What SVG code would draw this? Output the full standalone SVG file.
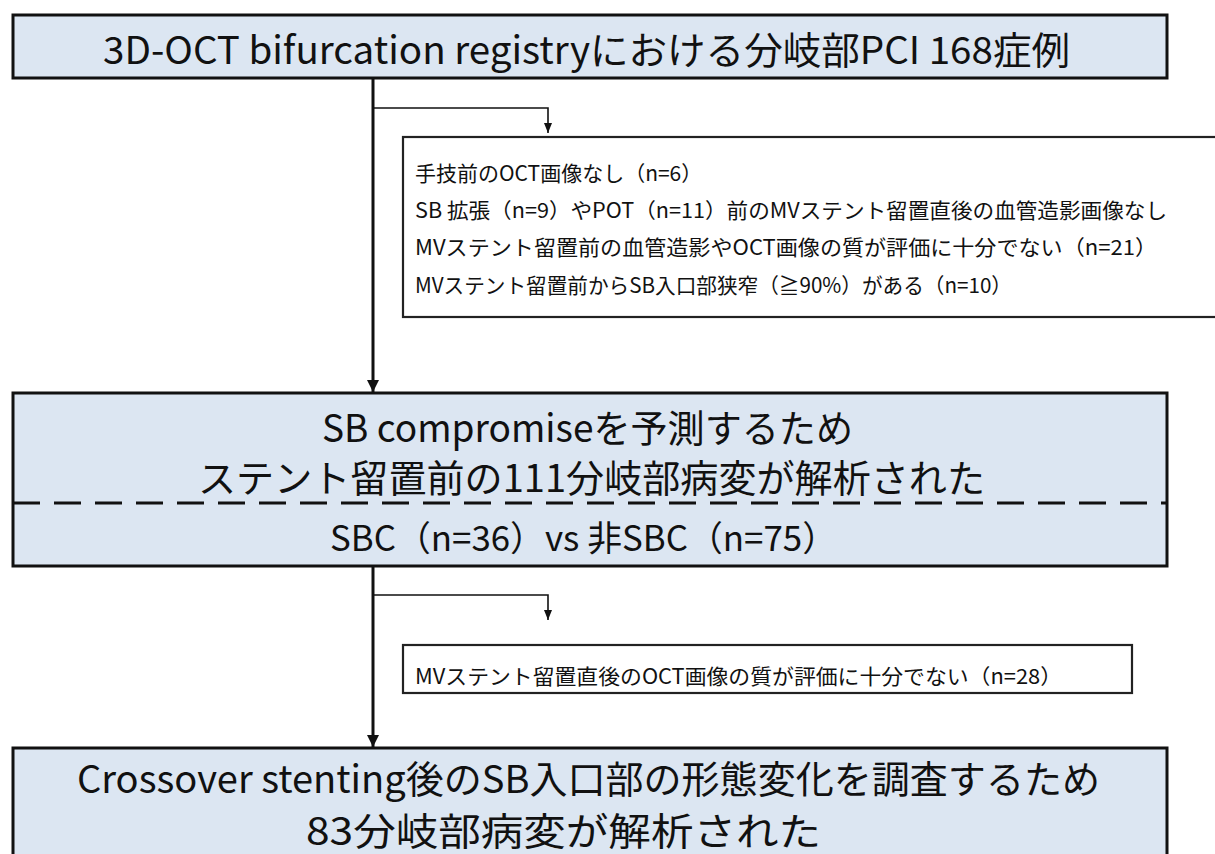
<svg xmlns="http://www.w3.org/2000/svg" width="1215" height="854" viewBox="0 0 1215 854">
<style>
  .main { fill: #dce6f2; stroke: #111; stroke-width: 3; }
  .excl { fill: #ffffff; stroke: #222; stroke-width: 2.2; }
  .t { font-family: "Noto Sans CJK JP", "Liberation Sans", sans-serif; fill: #111; }
  .big { font-size: 38px; }
  .mid { font-size: 35px; }
  .small { font-size: 21px; }
  .thick { fill: none; stroke: #111; stroke-width: 3; }
  .thin { fill: none; stroke: #111; stroke-width: 1.6; }
</style>
<defs>
  <marker id="bigArrow" viewBox="0 0 12 12" refX="12" refY="6" markerWidth="12" markerHeight="12" markerUnits="userSpaceOnUse" orient="auto">
    <path d="M0,0 L12,6 L0,12 Z" fill="#111"/>
  </marker>
  <marker id="smallArrow" viewBox="0 0 10 8" refX="10" refY="4" markerWidth="10" markerHeight="8" markerUnits="userSpaceOnUse" orient="auto">
    <path d="M0,0 L10,4 L0,8 Z" fill="#111"/>
  </marker>
</defs>
<rect width="1215" height="854" fill="#ffffff"/>

<g id="connectors">
  <line class="thick" x1="373" y1="78" x2="373" y2="392" marker-end="url(#bigArrow)"/>
  <polyline class="thin" points="373,108 548,108 548,133" marker-end="url(#smallArrow)"/>
  <line class="thick" x1="373" y1="566" x2="373" y2="747" marker-end="url(#bigArrow)"/>
  <polyline class="thin" points="373,595 548,595 548,620" marker-end="url(#smallArrow)"/>
</g>

<g id="node-registry">
  <rect class="main" x="13" y="15" width="1154" height="63"/>
  <text class="t big" x="103" y="64" textLength="967" lengthAdjust="spacingAndGlyphs">3D-OCT bifurcation registryにおける分岐部PCI 168症例</text>
</g>

<g id="node-exclusion1">
  <rect class="excl" x="403" y="137" width="830" height="180"/>
  <text class="t small" x="415" y="181">手技前のOCT画像なし（n=6）</text>
  <text class="t small" x="415" y="218" textLength="752" lengthAdjust="spacingAndGlyphs">SB 拡張（n=9）やPOT（n=11）前のMVステント留置直後の血管造影画像なし</text>
  <text class="t small" x="415" y="255" textLength="742" lengthAdjust="spacingAndGlyphs">MVステント留置前の血管造影やOCT画像の質が評価に十分でない（n=21）</text>
  <text class="t small" x="415" y="293" textLength="597" lengthAdjust="spacingAndGlyphs">MVステント留置前からSB入口部狭窄（≧90%）がある（n=10）</text>
</g>

<g id="node-analysis1">
  <rect class="main" x="13" y="393" width="1154" height="173"/>
  <text class="t big" x="322" y="442" textLength="531" lengthAdjust="spacingAndGlyphs">SB compromiseを予測するため</text>
  <text class="t big" x="198" y="492" textLength="787" lengthAdjust="spacingAndGlyphs">ステント留置前の111分岐部病変が解析された</text>
  <line x1="13" y1="503" x2="1167" y2="503" stroke="#111" stroke-width="3" stroke-dasharray="27 14"/>
  <text class="t mid" x="330" y="551" textLength="507" lengthAdjust="spacingAndGlyphs">SBC（n=36）vs 非SBC（n=75）</text>
</g>

<g id="node-exclusion2">
  <rect class="excl" x="403" y="645" width="729" height="48"/>
  <text class="t small" x="415" y="684" textLength="647" lengthAdjust="spacingAndGlyphs">MVステント留置直後のOCT画像の質が評価に十分でない（n=28）</text>
</g>

<g id="node-analysis2">
  <rect class="main" x="13" y="748" width="1154" height="130"/>
  <text class="t big" x="77" y="793" textLength="1023" lengthAdjust="spacingAndGlyphs">Crossover stenting後のSB入口部の形態変化を調査するため</text>
  <text class="t big" x="306" y="845" textLength="515" lengthAdjust="spacingAndGlyphs">83分岐部病変が解析された</text>
</g>
</svg>
